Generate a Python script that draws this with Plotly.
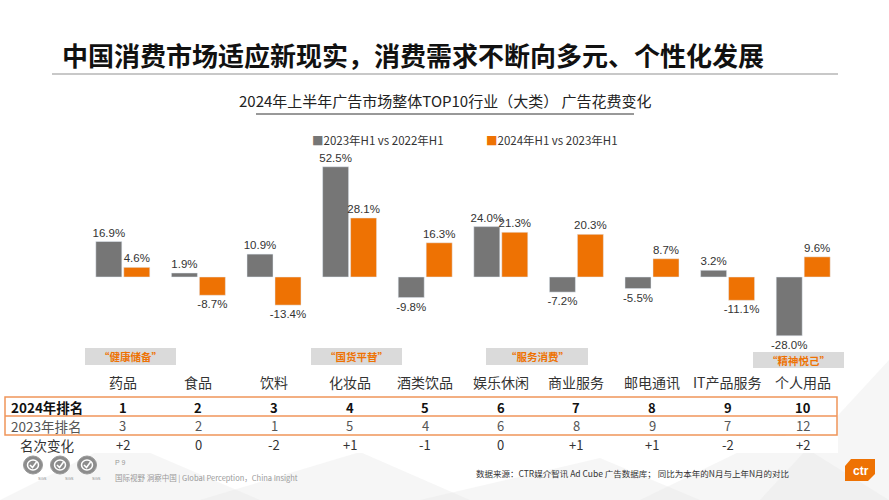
import plotly.graph_objects as go

# ---------------- data ----------------
categories = ["药品", "食品", "饮料", "化妆品", "酒类饮品", "娱乐休闲", "商业服务", "邮电通讯", "IT产品服务", "个人用品"]
series_names = ["2023年H1 vs 2022年H1", "2024年H1 vs 2023年H1"]
growth_2023 = [16.9, 1.9, 10.9, 52.5, -9.8, 24.0, -7.2, -5.5, 3.2, -28.0]
growth_2024 = [4.6, -8.7, -13.4, 28.1, 16.3, 21.3, 20.3, 8.7, -11.1, 9.6]
row_labels = ["2024年排名", "2023年排名", "名次变化"]
rank_2024 = ["1", "2", "3", "4", "5", "6", "7", "8", "9", "10"]
rank_2023 = ["3", "2", "1", "5", "4", "6", "8", "9", "7", "12"]
rank_change = ["+2", "0", "-2", "+1", "-1", "0", "+1", "+1", "-2", "+2"]
tag_labels = ["“健康储备”", "“国货平替”", "“服务消费”", "“精神悦己”"]

title = "中国消费市场适应新现实，消费需求不断向多元、个性化发展"
subtitle = "2024年上半年广告市场整体TOP10行业（大类） 广告花费变化"
source_note = "数据来源：CTR媒介智讯 Ad Cube 广告数据库； 同比为本年的N月与上年N月的对比"
page_no = "P 9"
slogan = "国际视野 洞察中国 | Global Perception，China Insight"

# ---------------- style ----------------
W, H = 889, 500
GRAY = "#767676"
ORANGE = "#EE7203"
LINE_OR = "#F0955A"
CJK = "Noto Sans CJK SC"
LAT = "Liberation Sans, Arial"


def px(x):
    return x / W


def py(y):
    return 1 - y / H


def fmt(v):
    return f"{v:.1f}%"


fig = go.Figure()
fig.add_bar(x=categories, y=growth_2023, name=series_names[0], marker_color=GRAY,
            text=[fmt(v) for v in growth_2023], textposition="outside", constraintext="none",
            textfont=dict(size=11.5, color="#333333", family=LAT), cliponaxis=False)
fig.add_bar(x=categories, y=growth_2024, name=series_names[1], marker_color=ORANGE,
            text=[fmt(v) for v in growth_2024], textposition="outside", constraintext="none",
            textfont=dict(size=11.5, color="#333333", family=LAT), cliponaxis=False)

shapes = []
annotations = []


def path_px(pts, close=True):
    s = "M " + " L ".join(f"{px(x):.5f} {py(y):.5f}" for x, y in pts)
    return s + (" Z" if close else "")


# background faint geometric texture at bottom
bg_polys = [
    [(0, 500), (120, 440), (260, 500)],
    [(200, 500), (360, 452), (470, 500)],
    [(420, 500), (600, 458), (700, 500)],
    [(640, 500), (780, 432), (889, 500)],
    [(760, 500), (889, 360), (889, 500)],
]
for p in bg_polys:
    shapes.append(dict(type="path", path=path_px(p), xref="paper", yref="paper", layer="below",
                       fillcolor="rgba(230,230,230,0.35)", line=dict(width=0)))

# title + rule
annotations.append(dict(text=f"<b>{title}</b>", x=px(60), y=py(55), xref="paper", yref="paper",
                        xanchor="left", yanchor="middle", showarrow=False,
                        font=dict(size=26, color="#111111", family=CJK)))
shapes.append(dict(type="line", xref="paper", yref="paper", x0=px(52), x1=px(838), y0=py(74), y1=py(74),
                   line=dict(color="#C8C8C8", width=2)))

# subtitle + rule
annotations.append(dict(text=subtitle, x=px(445), y=py(101), xref="paper", yref="paper",
                        xanchor="center", yanchor="middle", showarrow=False,
                        font=dict(size=15, color="#222222", family=CJK)))
shapes.append(dict(type="line", xref="paper", yref="paper", x0=px(256), x1=px(634), y0=py(114), y1=py(114),
                   line=dict(color="#333333", width=1)))

# legend (manual)
annotations.append(dict(text=f"<span style='color:{GRAY}'>■</span>{series_names[0]}", x=px(310), y=py(140),
                        xref="paper", yref="paper", xanchor="left", yanchor="middle", showarrow=False,
                        font=dict(size=11.5, color="#333333", family=CJK)))
annotations.append(dict(text=f"<span style='color:{ORANGE}'>■</span>{series_names[1]}", x=px(484), y=py(140),
                        xref="paper", yref="paper", xanchor="left", yanchor="middle", showarrow=False,
                        font=dict(size=11.5, color="#333333", family=CJK)))

# tags
tag_boxes = [(85, 176, 348, 365), (311, 402, 348, 365), (486, 588, 348, 365), (753, 844, 352, 368)]
for lab, (x0, x1, y0, y1) in zip(tag_labels, tag_boxes):
    shapes.append(dict(type="rect", xref="paper", yref="paper", x0=px(x0), x1=px(x1), y0=py(y0), y1=py(y1),
                       fillcolor="#DADADA", line=dict(width=0), layer="below"))
    annotations.append(dict(text=f"<b>{lab}</b>", x=px((x0 + x1) / 2), y=py((y0 + y1) / 2),
                            xref="paper", yref="paper", xanchor="center", yanchor="middle", showarrow=False,
                            font=dict(size=10.5, color=ORANGE, family=CJK)))

# category labels
for c in categories:
    annotations.append(dict(text=c, x=c, y=py(382), xref="x", yref="paper", xanchor="center",
                            yanchor="middle", showarrow=False,
                            font=dict(size=14, color="#333333", family=CJK)))

# table
shapes.append(dict(type="rect", xref="paper", yref="paper", x0=px(0), x1=px(838), y0=py(436), y1=py(453),
                   fillcolor="white", line=dict(width=0), layer="below"))
shapes.append(dict(type="rect", xref="paper", yref="paper", x0=px(5), x1=px(837), y0=py(397), y1=py(435),
                   fillcolor="white", line=dict(color=LINE_OR, width=1.5), layer="below"))
shapes.append(dict(type="line", xref="paper", yref="paper", x0=px(5), x1=px(837), y0=py(416), y1=py(416),
                   line=dict(color=LINE_OR, width=1.5)))

row_y = [407, 425.5, 444.5]
row_styles = [("#111111", True), ("#555555", False), ("#333333", False)]
row_x = [9, 9, 18]
rows = [rank_2024, rank_2023, rank_change]
for lab, yv, (col, bold), rx, vals in zip(row_labels, row_y, row_styles, row_x, rows):
    annotations.append(dict(text=f"<b>{lab}</b>" if bold else lab, x=px(rx), y=py(yv), xref="paper",
                            yref="paper", xanchor="left", yanchor="middle", showarrow=False,
                            font=dict(size=13.5, color=col, family=CJK)))
    for c, v in zip(categories, vals):
        annotations.append(dict(text=f"<b>{v}</b>" if bold else v, x=c, y=py(yv), xref="x", yref="paper",
                                xanchor="center", yanchor="middle", showarrow=False,
                                font=dict(size=13, color=col, family=CJK)))

# footer: certification logos
for cx in (33, 60, 87):
    shapes.append(dict(type="circle", xref="paper", yref="paper", x0=px(cx - 9.5), x1=px(cx + 9.5),
                       y0=py(474), y1=py(456), line=dict(color="#9a9a9a", width=1), fillcolor="#8c8c8c"))
    shapes.append(dict(type="circle", xref="paper", yref="paper", x0=px(cx - 5.5), x1=px(cx + 5.5),
                       y0=py(470), y1=py(460), line=dict(color="white", width=1.5), fillcolor="#8c8c8c"))
    shapes.append(dict(type="path", xref="paper", yref="paper",
                       path=path_px([(cx - 3, 465), (cx - 0.5, 467.5), (cx + 3.5, 462)], close=False),
                       line=dict(color="white", width=1.6)))
    annotations.append(dict(text="SGS", x=px(cx + 3), y=py(478), xref="paper", yref="paper", showarrow=False,
                            yanchor="middle", font=dict(size=4, color="#8a8a8a", family=LAT)))
annotations.append(dict(text=page_no, x=px(113), y=py(462), xref="paper", yref="paper", xanchor="left",
                        yanchor="middle", showarrow=False, font=dict(size=7, color="#999999", family=LAT)))
annotations.append(dict(text=slogan, x=px(113), y=py(477), xref="paper", yref="paper", xanchor="left",
                        yanchor="middle", showarrow=False, font=dict(size=7.5, color="#999999", family=CJK)))
annotations.append(dict(text=source_note, x=px(474), y=py(473), xref="paper", yref="paper", xanchor="left",
                        yanchor="middle", showarrow=False, font=dict(size=8.5, color="#333333", family=CJK)))

# ctr logo
shapes.append(dict(type="path", xref="paper", yref="paper",
                   path=path_px([(851, 459), (875, 459), (875, 474), (868, 481), (845, 481), (845, 466)]),
                   fillcolor=ORANGE, line=dict(width=0)))
annotations.append(dict(text="<b>ctr</b>", x=px(861), y=py(471), xref="paper", yref="paper",
                        xanchor="center", yanchor="middle", showarrow=False,
                        font=dict(size=12, color="white", family=LAT)))

fig.update_layout(
    width=W, height=H,
    margin=dict(l=0, r=0, t=0, b=0),
    paper_bgcolor="white", plot_bgcolor="rgba(0,0,0,0)",
    barmode="group", bargap=0.26, bargroupgap=0.07,
    showlegend=False,
    xaxis=dict(domain=[px(85), px(841)], showticklabels=False, showgrid=False, zeroline=False,
               showline=False, ticks=""),
    yaxis=dict(domain=[py(361), py(151)], range=[-40, 60], showticklabels=False, showgrid=False,
               zeroline=False, showline=False, ticks=""),
    shapes=shapes,
    annotations=annotations,
    font=dict(family=CJK),
)

fig.write_html("out.html")
